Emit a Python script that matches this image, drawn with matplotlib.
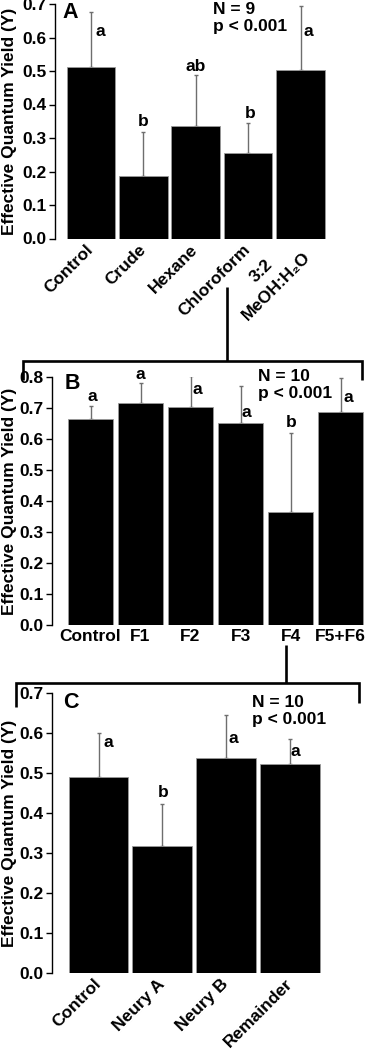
import numpy as np
import matplotlib
matplotlib.use("Agg")
import matplotlib.pyplot as plt
from matplotlib.lines import Line2D

plt.rcParams['font.family'] = ['Liberation Sans', 'DejaVu Sans']
plt.rcParams['font.weight'] = 'bold'
plt.rcParams['axes.labelweight'] = 'bold'

# panel A - extracts
cats_a = ['Control', 'Crude', 'Hexane', 'Chloroform', '3:2\nMeOH:H₂O']
mean_a = [0.513, 0.188, 0.336, 0.255, 0.503]
se_a = [0.162, 0.129, 0.152, 0.089, 0.192]
let_a = ['a', 'b', 'ab', 'b', 'a']

# panel B - fractions
cats_b = ['Control', 'F1', 'F2', 'F3', 'F4', 'F5+F6']
mean_b = [0.666, 0.716, 0.705, 0.651, 0.364, 0.688]
se_b = [0.042, 0.065, 0.098, 0.120, 0.257, 0.110]
let_b = ['a', 'a', 'a', 'a', 'b', 'a']

# panel C - sub-fractions
cats_c = ['Control', 'Neury A', 'Neury B', 'Remainder']
mean_c = [0.492, 0.318, 0.539, 0.523]
se_c = [0.110, 0.105, 0.108, 0.062]
let_c = ['a', 'b', 'a', 'a']

# where each letter sits: (x offset from bar, y in data units)
pos_a = [(0.17, 0.617), (0.0, 0.348), (0.0, 0.513), (0.03, 0.374), (0.15, 0.617)]
pos_b = [(0.03, 0.738), (0.0, 0.809), (0.13, 0.760), (0.12, 0.686), (0.02, 0.653), (0.15, 0.734)]
pos_c = [(0.15, 0.576), (0.01, 0.451), (0.12, 0.586), (0.09, 0.554)]

FS = 12.5
W, H = 367, 1050
fig = plt.figure(figsize=(W / 100, H / 100), dpi=100)


def px_axes(left, top, right, bottom):
    return fig.add_axes([left / W, 1 - bottom / H, (right - left) / W, (bottom - top) / H])


def fig_line(xs, ys):
    fig.add_artist(Line2D([x / W for x in xs], [1 - y / H for y in ys],
                          color='black', lw=1.9, solid_capstyle='butt',
                          solid_joinstyle='miter'))


def panel(ax, cats, means, ses, letters, pos, ymax, width, xlim, rotate, label, stats, label_xy, stats_xy):
    x = np.arange(len(cats))
    ax.bar(x, means, width=width, color='black', edgecolor='#9a9a9a', linewidth=0.6, zorder=2)
    ax.errorbar(x, means, yerr=[np.zeros(len(x)), ses], fmt='none', ecolor='#6e6e6e',
                elinewidth=1.0, capsize=1.3, capthick=1.0, zorder=1)
    for i, (t, (dx, yy)) in enumerate(zip(letters, pos)):
        ax.text(i + dx, yy, t, ha='center', va='center', fontsize=FS, fontweight='bold')
    ax.set_xlim(*xlim)
    ax.set_ylim(0, ymax)
    ax.set_yticks(np.round(np.arange(0, ymax + 0.001, 0.1), 1))
    ax.yaxis.set_major_formatter(matplotlib.ticker.FormatStrFormatter('%.1f'))
    for s in ['top', 'right', 'bottom']:
        ax.spines[s].set_visible(False)
    ax.spines['left'].set_bounds(0, ymax)
    ax.spines['left'].set_linewidth(1.0)
    ax.tick_params(axis='y', length=4, width=1.0, pad=2, labelsize=FS)
    ax.tick_params(axis='x', length=0, pad=6 if rotate else 3, labelsize=FS)
    ax.set_xticks(x)
    if rotate:
        ax.set_xticklabels(cats, rotation=45, ha='right', va='center',
                           rotation_mode='anchor', multialignment='center', linespacing=1.55)
    else:
        ax.set_xticklabels(cats)
    for t in ax.get_yticklabels() + ax.get_xticklabels():
        t.set_fontweight('bold')
    ax.set_ylabel('Effective Quantum Yield (Y)', fontsize=FS, fontweight='bold')
    pos_ax = ax.get_position()
    ax.yaxis.set_label_coords((17 / W - pos_ax.x0) / pos_ax.width, 0.5)
    fig.text(label_xy[0] / W, 1 - label_xy[1] / H, label, fontsize=15.5, fontweight='bold',
             ha='left', va='center')
    fig.text(stats_xy[0] / W, 1 - stats_xy[1] / H, stats, fontsize=FS, fontweight='bold',
             ha='left', va='top', linespacing=1.15)


ax_a = px_axes(55, 4, 330, 238.5)
panel(ax_a, cats_a, mean_a, se_a, let_a, pos_a, 0.7, 0.93, (-0.687, 4.563), True,
      'A', 'N = 9\np < 0.001', (62, 13), (213, 2))

ax_b = px_axes(52, 377.3, 367, 624.7)
panel(ax_b, cats_b, mean_b, se_b, let_b, pos_b, 0.8, 0.9, (-0.77, 5.53), False,
      'B', 'N = 10\np < 0.001', (65, 383.5), (258, 369))

ax_c = px_axes(51.7, 693.3, 340, 973.3)
panel(ax_c, cats_c, mean_c, se_c, let_c, pos_c, 0.7, 0.94, (-0.735, 3.79), True,
      'C', 'N = 10\np < 0.001', (63, 703), (252, 695))

# brackets linking the panels
fig_line([227, 227], [287, 361])
fig_line([23, 23, 362, 362], [380, 361, 361, 380])
fig_line([286, 286], [645, 683])
fig_line([16, 16, 359, 359], [707, 683, 683, 703])

fig.savefig('out.png', dpi=100)
